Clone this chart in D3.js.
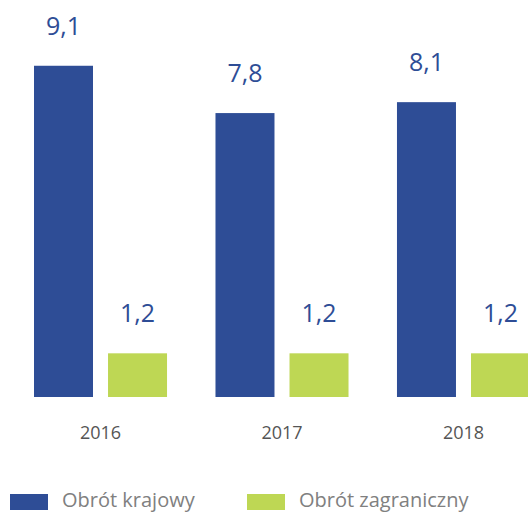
<!DOCTYPE html>
<html>
<head>
<meta charset="utf-8">
<script src="https://cdn.jsdelivr.net/npm/d3@7"></script>
<style>
  html, body { margin: 0; padding: 0; background: #fff; }
  svg { display: block; font-family: "Open Sans", "Noto Sans", sans-serif; }
</style>
</head>
<body>
<div id="chart"></div>
<script>
var years = ['2016', '2017', '2018'];
var seriesNames = ['Obrót krajowy', 'Obrót zagraniczny'];
var krajowy = [9.1, 7.8, 8.1];
var zagraniczny = [1.2, 1.2, 1.2];
var colors = ['#2e4d96', '#bed754'];

var width = 528, height = 512;
var baseline = 397;

var svg = d3.select('#chart').append('svg')
    .attr('width', width)
    .attr('height', height);

var x0 = d3.scaleBand()
    .domain(years)
    .range([34, 530])
    .paddingInner(0.267)
    .paddingOuter(0);

var x1 = d3.scaleBand()
    .domain(seriesNames)
    .range([0, x0.bandwidth()])
    .paddingInner(0.203)
    .paddingOuter(0);

var y = d3.scaleLinear()
    .domain([0, 10])
    .range([baseline, baseline - 364]);

var data = years.map(function (yr, i) {
    return { year: yr, values: [
        { key: seriesNames[0], value: krajowy[i], color: colors[0] },
        { key: seriesNames[1], value: zagraniczny[i], color: colors[1] }
    ] };
});

var groups = svg.append('g')
    .selectAll('g')
    .data(data)
    .enter().append('g')
    .attr('transform', function (d) { return 'translate(' + x0(d.year) + ',0)'; });

groups.selectAll('rect')
    .data(function (d) { return d.values; })
    .enter().append('rect')
    .attr('x', function (d) { return x1(d.key); })
    .attr('y', function (d) { return y(d.value); })
    .attr('width', x1.bandwidth())
    .attr('height', function (d) { return baseline - y(d.value); })
    .attr('fill', function (d) { return d.color; });

groups.selectAll('text.val')
    .data(function (d) { return d.values; })
    .enter().append('text')
    .attr('class', 'val')
    .attr('x', function (d) { return x1(d.key) + x1.bandwidth() / 2; })
    .attr('y', function (d) { return y(d.value) - 31; })
    .attr('text-anchor', 'middle')
    .attr('font-size', 25)
    .attr('fill', '#2e4d96')
    .text(function (d) { return String(d.value).replace('.', ','); });

// category axis, no line/ticks
var xAxis = svg.append('g')
    .attr('transform', 'translate(0,' + baseline + ')')
    .call(d3.axisBottom(x0).tickSize(0).tickPadding(29));
xAxis.select('.domain').remove();
xAxis.selectAll('text')
    .attr('font-family', '"Open Sans", "Noto Sans", sans-serif')
    .attr('font-size', 18)
    .attr('fill', '#555');

// legend
var legend = svg.append('g');
var legendX = [10, 247];
seriesNames.forEach(function (name, i) {
    legend.append('rect')
        .attr('x', legendX[i])
        .attr('y', 494)
        .attr('width', 38)
        .attr('height', 16)
        .attr('fill', colors[i]);
    legend.append('text')
        .attr('x', legendX[i] + 52)
        .attr('y', 507)
        .attr('font-size', 20)
        .attr('fill', '#808080')
        .text(name);
});
</script>
</body>
</html>
